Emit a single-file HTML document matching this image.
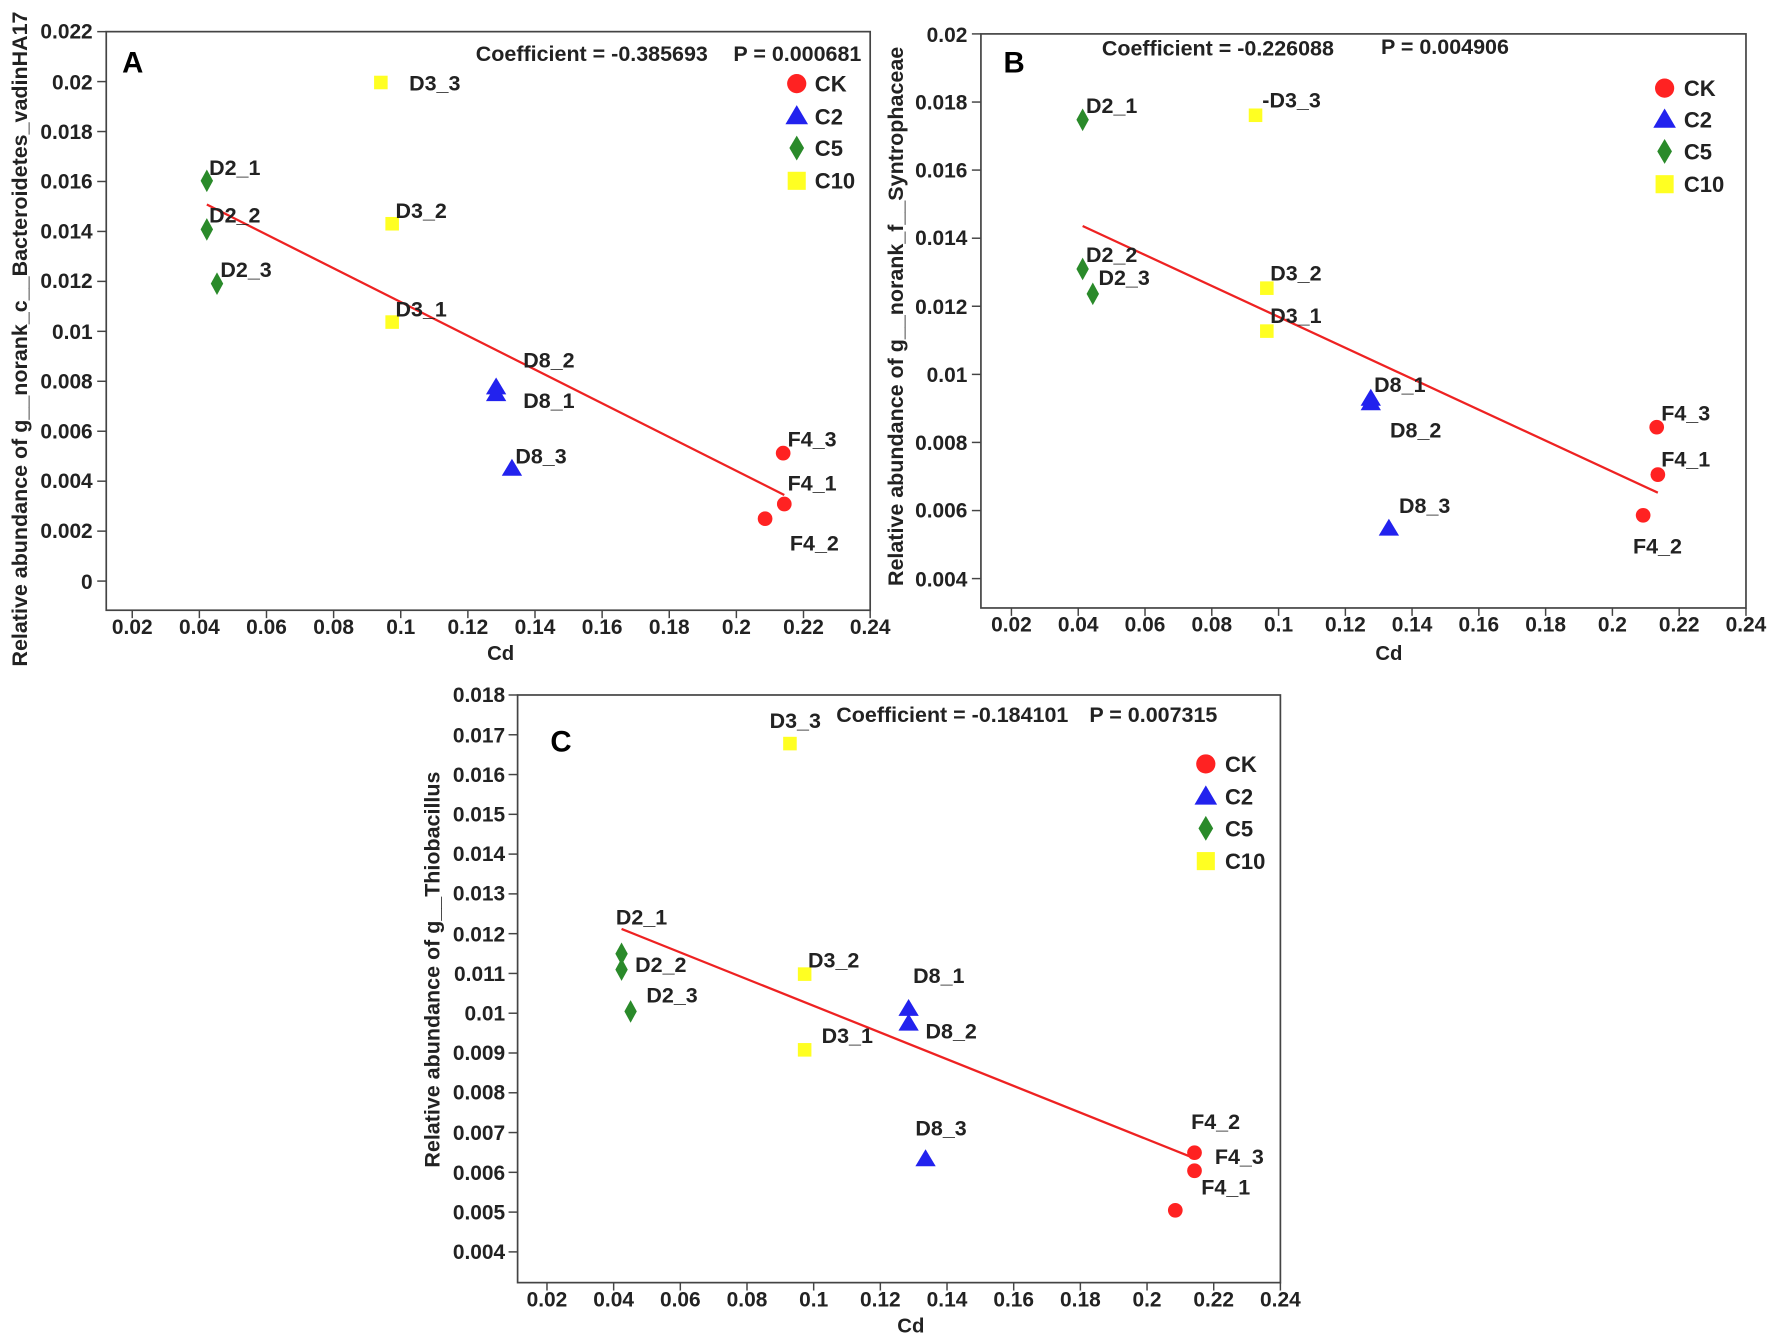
<!DOCTYPE html>
<html><head><meta charset="utf-8"><style>
html,body{margin:0;padding:0;background:#fff;}
svg{display:block;}
text{font-family:"Liberation Sans",Arial,sans-serif;fill:#222;}
.t{font-size:18.5px;font-weight:bold;}
.p{font-size:19px;font-weight:bold;}
.c{font-size:19px;font-weight:bold;}
.lg{font-size:19.5px;font-weight:bold;}
.ax{font-size:18px;font-weight:bold;}
.yl{font-size:19px;font-weight:bold;}
.L{font-size:26px;font-weight:bold;fill:#000;}
</style></head><body>
<svg width="1772" height="1338" viewBox="0 0 1568 1184" xmlns="http://www.w3.org/2000/svg">
<defs>
<g id="ci"><circle r="6.5" fill="#f22"/></g>
<g id="tr"><polygon points="0,-9 9,6 -9,6" fill="#22e"/></g>
<g id="di"><polygon points="0,-10 5.5,0 0,10 -5.5,0" fill="#2a8a2a"/></g>
<g id="sq"><rect x="-6" y="-6" width="12" height="12" fill="#ff2"/></g>
<g id="lci"><circle r="8.5" fill="#f22"/></g>
<g id="ltr"><polygon points="0,-10 10,7 -10,7" fill="#22e"/></g>
<g id="ldi"><polygon points="0,-11 6.5,0 0,11 -6.5,0" fill="#2a8a2a"/></g>
<g id="lsq"><rect x="-8" y="-8" width="16" height="16" fill="#ff2"/></g>
</defs>

<!-- Panel A -->
<g stroke="#444" stroke-width="1.5" fill="none">
<rect x="94" y="28" width="676" height="512"/>
</g>
<g stroke="#444" stroke-width="1.3">
<line x1="86" y1="28" x2="94" y2="28"/><line x1="86" y1="72.2" x2="94" y2="72.2"/><line x1="86" y1="116.4" x2="94" y2="116.4"/><line x1="86" y1="160.6" x2="94" y2="160.6"/><line x1="86" y1="204.8" x2="94" y2="204.8"/><line x1="86" y1="249" x2="94" y2="249"/><line x1="86" y1="293.2" x2="94" y2="293.2"/><line x1="86" y1="337.4" x2="94" y2="337.4"/><line x1="86" y1="381.6" x2="94" y2="381.6"/><line x1="86" y1="425.8" x2="94" y2="425.8"/><line x1="86" y1="470" x2="94" y2="470"/><line x1="86" y1="514.2" x2="94" y2="514.2"/>
<line x1="117" y1="540" x2="117" y2="547"/><line x1="176.4" y1="540" x2="176.4" y2="547"/><line x1="235.8" y1="540" x2="235.8" y2="547"/><line x1="295.2" y1="540" x2="295.2" y2="547"/><line x1="354.6" y1="540" x2="354.6" y2="547"/><line x1="414" y1="540" x2="414" y2="547"/><line x1="473.4" y1="540" x2="473.4" y2="547"/><line x1="532.8" y1="540" x2="532.8" y2="547"/><line x1="592.2" y1="540" x2="592.2" y2="547"/><line x1="651.6" y1="540" x2="651.6" y2="547"/><line x1="711" y1="540" x2="711" y2="547"/><line x1="770" y1="540" x2="770" y2="547"/>
</g>
<g class="t" text-anchor="end">
<text x="82" y="34">0.022</text><text x="82" y="79">0.02</text><text x="82" y="123">0.018</text><text x="82" y="167">0.016</text><text x="82" y="211">0.014</text><text x="82" y="255">0.012</text><text x="82" y="300">0.01</text><text x="82" y="344">0.008</text><text x="82" y="388">0.006</text><text x="82" y="432">0.004</text><text x="82" y="476">0.002</text><text x="82" y="521">0</text>
</g>
<g class="t" text-anchor="middle">
<text x="117" y="561">0.02</text><text x="176.4" y="561">0.04</text><text x="235.8" y="561">0.06</text><text x="295.2" y="561">0.08</text><text x="354.6" y="561">0.1</text><text x="414" y="561">0.12</text><text x="473.4" y="561">0.14</text><text x="532.8" y="561">0.16</text><text x="592.2" y="561">0.18</text><text x="651.6" y="561">0.2</text><text x="711" y="561">0.22</text><text x="770" y="561">0.24</text>
</g>
<text class="ax" x="443" y="584" text-anchor="middle">Cd</text>
<text class="yl" transform="translate(24,300) rotate(-90)" text-anchor="middle">Relative abundance of g__norank_c__Bacteroidetes_vadinHA17</text>
<text class="L" x="108" y="64">A</text>
<text class="c" x="421" y="54">Coefficient = -0.385693</text>
<text class="c" x="649" y="54">P = 0.000681</text>
<line x1="183" y1="181" x2="694" y2="438" stroke="#e22" stroke-width="2"/>
<use href="#sq" x="337" y="73"/><use href="#di" x="183" y="160"/><use href="#di" x="183" y="203"/><use href="#di" x="192" y="251"/>
<use href="#sq" x="347" y="198"/><use href="#sq" x="347" y="285"/>
<use href="#tr" x="439" y="343"/><use href="#tr" x="439" y="349"/><use href="#tr" x="453" y="415"/>
<use href="#ci" x="693" y="401"/><use href="#ci" x="694" y="446"/><use href="#ci" x="677" y="459"/>
<g class="p">
<text x="362" y="80">D3_3</text><text x="185" y="155">D2_1</text><text x="185" y="197">D2_2</text><text x="195" y="245">D2_3</text>
<text x="350" y="193">D3_2</text><text x="350" y="280">D3_1</text><text x="463" y="325">D8_2</text><text x="463" y="361">D8_1</text>
<text x="456" y="410">D8_3</text><text x="697" y="395">F4_3</text><text x="697" y="434">F4_1</text><text x="699" y="487">F4_2</text>
</g>
<use href="#lci" x="705" y="74"/><use href="#ltr" x="705" y="103"/><use href="#ldi" x="705" y="131"/><use href="#lsq" x="705" y="160"/>
<g class="lg"><text x="721" y="81">CK</text><text x="721" y="110">C2</text><text x="721" y="138">C5</text><text x="721" y="167">C10</text></g>

<!-- Panel B -->
<rect x="868" y="30" width="677" height="508" stroke="#444" stroke-width="1.5" fill="none"/>
<g stroke="#444" stroke-width="1.3">
<line x1="860" y1="30" x2="868" y2="30"/><line x1="860" y1="90.3" x2="868" y2="90.3"/><line x1="860" y1="150.5" x2="868" y2="150.5"/><line x1="860" y1="210.8" x2="868" y2="210.8"/><line x1="860" y1="271" x2="868" y2="271"/><line x1="860" y1="331.3" x2="868" y2="331.3"/><line x1="860" y1="391.5" x2="868" y2="391.5"/><line x1="860" y1="451.8" x2="868" y2="451.8"/><line x1="860" y1="512" x2="868" y2="512"/>
<line x1="895" y1="538" x2="895" y2="545"/><line x1="954.1" y1="538" x2="954.1" y2="545"/><line x1="1013.2" y1="538" x2="1013.2" y2="545"/><line x1="1072.3" y1="538" x2="1072.3" y2="545"/><line x1="1131.4" y1="538" x2="1131.4" y2="545"/><line x1="1190.5" y1="538" x2="1190.5" y2="545"/><line x1="1249.5" y1="538" x2="1249.5" y2="545"/><line x1="1308.6" y1="538" x2="1308.6" y2="545"/><line x1="1367.7" y1="538" x2="1367.7" y2="545"/><line x1="1426.8" y1="538" x2="1426.8" y2="545"/><line x1="1485.9" y1="538" x2="1485.9" y2="545"/><line x1="1545" y1="538" x2="1545" y2="545"/>
</g>
<g class="t" text-anchor="end">
<text x="856" y="37">0.02</text><text x="856" y="97">0.018</text><text x="856" y="157">0.016</text><text x="856" y="217">0.014</text><text x="856" y="278">0.012</text><text x="856" y="338">0.01</text><text x="856" y="398">0.008</text><text x="856" y="458">0.006</text><text x="856" y="519">0.004</text>
</g>
<g class="t" text-anchor="middle">
<text x="895" y="559">0.02</text><text x="954.1" y="559">0.04</text><text x="1013.2" y="559">0.06</text><text x="1072.3" y="559">0.08</text><text x="1131.4" y="559">0.1</text><text x="1190.5" y="559">0.12</text><text x="1249.5" y="559">0.14</text><text x="1308.6" y="559">0.16</text><text x="1367.7" y="559">0.18</text><text x="1426.8" y="559">0.2</text><text x="1485.9" y="559">0.22</text><text x="1545" y="559">0.24</text>
</g>
<text class="ax" x="1229" y="584" text-anchor="middle">Cd</text>
<text class="yl" transform="translate(799,280) rotate(-90)" text-anchor="middle">Relative abundance of g__norank_f__Syntrophaceae</text>
<text class="L" x="888" y="64">B</text>
<text class="c" x="975" y="49">Coefficient = -0.226088</text>
<text class="c" x="1222" y="48">P = 0.004906</text>
<line x1="958" y1="200" x2="1467" y2="436" stroke="#e22" stroke-width="2"/>
<use href="#di" x="958" y="106"/><use href="#sq" x="1111" y="102"/><use href="#di" x="958" y="238"/><use href="#di" x="967" y="260"/>
<use href="#sq" x="1121" y="255"/><use href="#sq" x="1121" y="293"/>
<use href="#tr" x="1213" y="353"/><use href="#tr" x="1213" y="357"/><use href="#tr" x="1229" y="468"/>
<use href="#ci" x="1466" y="378"/><use href="#ci" x="1467" y="420"/><use href="#ci" x="1454" y="456"/>
<g class="p">
<text x="961" y="100">D2_1</text><text x="1117" y="95">-D3_3</text><text x="961" y="232">D2_2</text><text x="972" y="252">D2_3</text>
<text x="1124" y="248">D3_2</text><text x="1124" y="286">D3_1</text><text x="1216" y="347">D8_1</text><text x="1230" y="387">D8_2</text>
<text x="1238" y="454">D8_3</text><text x="1470" y="372">F4_3</text><text x="1470" y="413">F4_1</text><text x="1445" y="490">F4_2</text>
</g>
<use href="#lci" x="1473" y="78"/><use href="#ltr" x="1473" y="106"/><use href="#ldi" x="1473" y="134"/><use href="#lsq" x="1473" y="163"/>
<g class="lg"><text x="1490" y="85">CK</text><text x="1490" y="113">C2</text><text x="1490" y="141">C5</text><text x="1490" y="170">C10</text></g>

<!-- Panel C -->
<rect x="458" y="615" width="675" height="520" stroke="#444" stroke-width="1.5" fill="none"/>
<g stroke="#444" stroke-width="1.3">
<line x1="450" y1="615" x2="458" y2="615"/><line x1="450" y1="650.2" x2="458" y2="650.2"/><line x1="450" y1="685.4" x2="458" y2="685.4"/><line x1="450" y1="720.6" x2="458" y2="720.6"/><line x1="450" y1="755.8" x2="458" y2="755.8"/><line x1="450" y1="791" x2="458" y2="791"/><line x1="450" y1="826.2" x2="458" y2="826.2"/><line x1="450" y1="861.4" x2="458" y2="861.4"/><line x1="450" y1="896.6" x2="458" y2="896.6"/><line x1="450" y1="931.8" x2="458" y2="931.8"/><line x1="450" y1="967" x2="458" y2="967"/><line x1="450" y1="1002.2" x2="458" y2="1002.2"/><line x1="450" y1="1037.4" x2="458" y2="1037.4"/><line x1="450" y1="1072.6" x2="458" y2="1072.6"/><line x1="450" y1="1107.8" x2="458" y2="1107.8"/>
<line x1="484" y1="1135" x2="484" y2="1142"/><line x1="543" y1="1135" x2="543" y2="1142"/><line x1="602" y1="1135" x2="602" y2="1142"/><line x1="661" y1="1135" x2="661" y2="1142"/><line x1="720" y1="1135" x2="720" y2="1142"/><line x1="779" y1="1135" x2="779" y2="1142"/><line x1="838" y1="1135" x2="838" y2="1142"/><line x1="897" y1="1135" x2="897" y2="1142"/><line x1="956" y1="1135" x2="956" y2="1142"/><line x1="1015" y1="1135" x2="1015" y2="1142"/><line x1="1074" y1="1135" x2="1074" y2="1142"/><line x1="1133" y1="1135" x2="1133" y2="1142"/>
</g>
<g class="t" text-anchor="end">
<text x="447" y="621">0.018</text><text x="447" y="657">0.017</text><text x="447" y="692">0.016</text><text x="447" y="727">0.015</text><text x="447" y="762">0.014</text><text x="447" y="797">0.013</text><text x="447" y="833">0.012</text><text x="447" y="868">0.011</text><text x="447" y="903">0.01</text><text x="447" y="938">0.009</text><text x="447" y="973">0.008</text><text x="447" y="1009">0.007</text><text x="447" y="1044">0.006</text><text x="447" y="1079">0.005</text><text x="447" y="1114">0.004</text>
</g>
<g class="t" text-anchor="middle">
<text x="484" y="1156">0.02</text><text x="543" y="1156">0.04</text><text x="602" y="1156">0.06</text><text x="661" y="1156">0.08</text><text x="720" y="1156">0.1</text><text x="779" y="1156">0.12</text><text x="838" y="1156">0.14</text><text x="897" y="1156">0.16</text><text x="956" y="1156">0.18</text><text x="1015" y="1156">0.2</text><text x="1074" y="1156">0.22</text><text x="1133" y="1156">0.24</text>
</g>
<text class="ax" x="806" y="1179" text-anchor="middle">Cd</text>
<text class="yl" transform="translate(389,858) rotate(-90)" text-anchor="middle">Relative abundance of g__Thiobacillus</text>
<text class="L" x="487" y="665">C</text>
<text class="c" x="740" y="639">Coefficient = -0.184101</text>
<text class="c" x="964" y="639">P = 0.007315</text>
<line x1="550" y1="822" x2="1057" y2="1025" stroke="#e22" stroke-width="2"/>
<use href="#sq" x="699" y="658"/><use href="#di" x="550" y="844"/><use href="#di" x="550" y="858"/><use href="#di" x="558" y="895"/>
<use href="#sq" x="712" y="862"/><use href="#sq" x="712" y="929"/>
<use href="#tr" x="804" y="893"/><use href="#tr" x="804" y="906"/><use href="#tr" x="819" y="1026"/>
<use href="#ci" x="1057" y="1020"/><use href="#ci" x="1057" y="1036"/><use href="#ci" x="1040" y="1071"/>
<g class="p">
<text x="681" y="644">D3_3</text><text x="545" y="818">D2_1</text><text x="562" y="860">D2_2</text><text x="572" y="887">D2_3</text>
<text x="715" y="856">D3_2</text><text x="727" y="923">D3_1</text><text x="808" y="870">D8_1</text><text x="819" y="919">D8_2</text>
<text x="810" y="1005">D8_3</text><text x="1054" y="999">F4_2</text><text x="1075" y="1030">F4_3</text><text x="1063" y="1057">F4_1</text>
</g>
<use href="#lci" x="1067" y="676"/><use href="#ltr" x="1067" y="705"/><use href="#ldi" x="1067" y="733"/><use href="#lsq" x="1067" y="762"/>
<g class="lg"><text x="1084" y="683">CK</text><text x="1084" y="712">C2</text><text x="1084" y="740">C5</text><text x="1084" y="769">C10</text></g>
</svg>
</body></html>
